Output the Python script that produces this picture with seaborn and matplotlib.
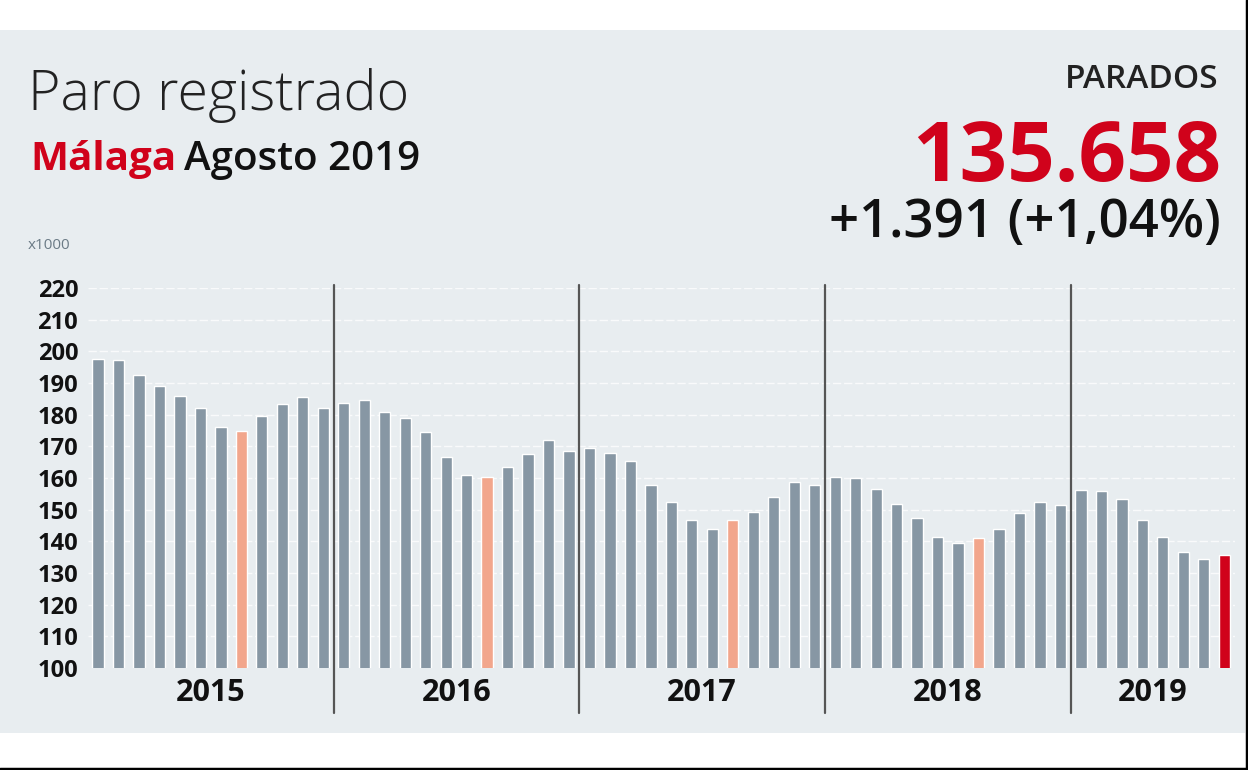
import matplotlib
matplotlib.use("Agg")
import matplotlib.pyplot as plt
import seaborn as sns
import pandas as pd
from matplotlib.patches import Rectangle
from matplotlib.lines import Line2D

# ---- data (thousands of registered unemployed, Málaga) ----
years = [2015] * 12 + [2016] * 12 + [2017] * 12 + [2018] * 12 + [2019] * 8
months = list(range(1, 13)) * 4 + list(range(1, 9))
parados_miles = [
    197.6, 197.3, 192.5, 189.0, 185.8, 182.1, 176.2, 174.9, 179.5, 183.4, 185.7, 182.1,
    183.7, 184.5, 180.8, 178.9, 174.4, 166.5, 160.9, 160.4, 163.6, 167.6, 172.0, 168.5,
    169.6, 168.0, 165.4, 157.7, 152.5, 146.7, 143.8, 146.7, 149.3, 154.1, 158.6, 157.7,
    160.2, 160.1, 156.6, 151.8, 147.3, 141.5, 139.6, 141.0, 143.9, 148.9, 152.3, 151.5,
    156.2, 155.8, 153.4, 146.7, 141.5, 136.6, 134.267, 135.658,
]
year_labels = ["2015", "2016", "2017", "2018", "2019"]
y_ticks = [100, 110, 120, 130, 140, 150, 160, 170, 180, 190, 200, 210, 220]

title = "Paro registrado"
place = "Málaga"
period = "Agosto 2019"
kpi_label = "PARADOS"
kpi_value = "135.658"
kpi_change = "+1.391 (+1,04%)"
unit = "x1000"

# ---- styling ----
BG = "#e8edf0"
GREY = "#8797a4"
ORANGE = "#f2a68c"
RED = "#d0021b"
FONT = "Open Sans"

n = len(parados_miles)
kind = []
for i, (y, m) in enumerate(zip(years, months)):
    if i == n - 1:
        kind.append("current")
    elif m == 8:
        kind.append("august")
    else:
        kind.append("normal")

df = pd.DataFrame({
    "mes": [f"{y}-{m:02d}" for y, m in zip(years, months)],
    "valor": parados_miles,
    "tipo": kind,
    "anio": years,
})

sns.set_theme(style="white")
plt.rcParams["font.family"] = [FONT, "DejaVu Sans"]

W, H = 1248, 770
fig = plt.figure(figsize=(W / 100, H / 100), dpi=100)
fig.patch.set_facecolor("white")

# background panel and frame lines
fig.patches.append(Rectangle((0, 1 - 733 / H), 1245 / W, (733 - 30) / H,
                             transform=fig.transFigure, facecolor=BG,
                             edgecolor="none", zorder=-5))
fig.lines.append(Line2D([0, 1], [1 - 768.5 / H] * 2, transform=fig.transFigure,
                        color="black", lw=2.5))
fig.lines.append(Line2D([1246.5 / W] * 2, [0, 1], transform=fig.transFigure,
                        color="black", lw=2.5))

ax_left = 87.8 / W
ax_right = 1234.5 / W
ax_bottom = 1 - 668 / H
ax_top = 1 - 288 / H
ax = fig.add_axes([ax_left, ax_bottom, ax_right - ax_left, ax_top - ax_bottom])
ax.patch.set_visible(False)
ax.set_zorder(2)

sns.barplot(data=df, x="mes", y="valor", hue="tipo",
            palette={"normal": GREY, "august": ORANGE, "current": RED},
            dodge=False, width=0.55, legend=False, ax=ax, zorder=3,
            order=df["mes"].tolist(), saturation=1)

ax.set_ylim(100, 220)
ax.set_xlim(-0.5, n - 0.5)
ax.set_yticks(y_ticks)
ax.set_yticklabels([str(t) for t in y_ticks], fontsize=17, fontweight="bold",
                   color="#111111")
ax.tick_params(axis="y", length=0, pad=7)
ax.set_xticks([])
ax.set_xlabel("")
ax.set_ylabel("")
for s in ax.spines.values():
    s.set_visible(False)

# faint dashed white gridlines
for t in y_ticks[1:]:
    ax.axhline(t, color="white", lw=1.0, alpha=0.75, ls=(0, (6, 2)), zorder=1)

# year separators and labels
years_s = pd.Series(years)
for yl in year_labels:
    idx = years_s[years_s == int(yl)].index
    ax.text(idx.to_numpy().mean(), 100 - 8.0, yl, ha="center", va="center",
            fontsize=22, fontweight="bold", color="#111111", clip_on=False)
    if idx[0] > 0:
        xs = idx[0] - 0.5
        ax.plot([xs, xs], [85.8, 221], color="#555555", lw=1.6,
                clip_on=False, zorder=4)

# ---- header texts ----
def fx(px):
    return px / W

def fy(py):
    return 1 - py / H

fig.text(fx(28), fy(110), title, fontsize=40, fontweight="light",
         color="#222222", ha="left", va="baseline")
t1 = fig.text(fx(30), fy(170), place, fontsize=29, fontweight="bold",
              color=RED, ha="left", va="baseline")
fig.canvas.draw()
bb = t1.get_window_extent()
fig.text((bb.x1 + 8) / W, fy(170), period, fontsize=29, fontweight="semibold",
         color="#111111", ha="left", va="baseline")

fig.text(fx(1219), fy(88), kpi_label, fontsize=24, fontweight="semibold",
         color="#222222", ha="right", va="baseline")
fig.text(fx(1221), fy(181), kpi_value, fontsize=60, fontweight="bold",
         color=RED, ha="right", va="baseline")
fig.text(fx(1221), fy(237), kpi_change, fontsize=38, fontweight="semibold",
         color="#111111", ha="right", va="baseline")
fig.text(fx(28), fy(249), unit, fontsize=11, color="#6b7b86",
         ha="left", va="baseline")

fig.savefig("out.png", dpi=100, facecolor=fig.get_facecolor())
